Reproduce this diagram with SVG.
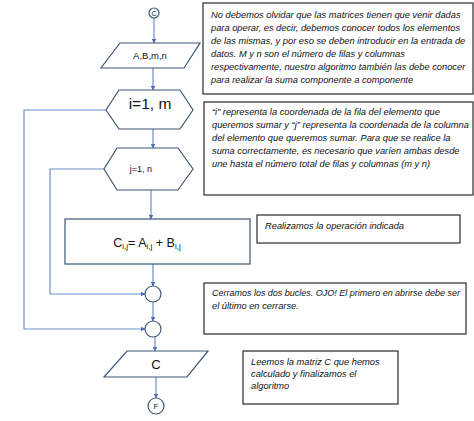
<svg xmlns="http://www.w3.org/2000/svg" width="474" height="421" viewBox="0 0 474 421">
<defs>
<marker id="ah" viewBox="0 0 10 10" refX="9" refY="5" markerWidth="5" markerHeight="5" orient="auto" markerUnits="userSpaceOnUse">
<path d="M0,0 L10,5 L0,10 z" fill="#4a6fb5"/>
</marker>
<style>
.n{fill:#fff;stroke:#3f5678;stroke-width:1.2}
.c{fill:none;stroke:#6f8dcc;stroke-width:1.2}
.nt{font-family:"Liberation Sans",Arial,sans-serif;fill:#111;text-anchor:middle}
.b{fill:#fff;stroke:#3a3a3a;stroke-width:1.3}
.bt{font-family:"Liberation Sans",Arial,sans-serif;font-style:italic;font-size:9.3px;fill:#111}
</style>
</defs>
<rect width="474" height="421" fill="#fff"/>
<g id="connectors">
<line class="c" x1="154" y1="18" x2="154" y2="43" marker-end="url(#ah)"/>
<line class="c" x1="153" y1="68" x2="153" y2="90" marker-end="url(#ah)"/>
<line class="c" x1="153" y1="129" x2="153" y2="148" marker-end="url(#ah)"/>
<line class="c" x1="151" y1="190" x2="151" y2="219" marker-end="url(#ah)"/>
<line class="c" x1="153" y1="264" x2="153" y2="286" marker-end="url(#ah)"/>
<line class="c" x1="153" y1="302" x2="153" y2="321" marker-end="url(#ah)"/>
<line class="c" x1="155" y1="337" x2="155" y2="351" marker-end="url(#ah)"/>
<line class="c" x1="156" y1="377" x2="156" y2="398" marker-end="url(#ah)"/>
<polyline class="c" points="106,110 24,110 24,329 145,329" marker-end="url(#ah)"/>
<polyline class="c" points="104,169 50,169 50,294 145,294" marker-end="url(#ah)"/>
</g>
<g id="start">
<circle class="n" cx="154" cy="13" r="5"/>
<text class="nt" x="154" y="15.5" font-size="7">C</text>
</g>
<g id="input">
<polygon class="n" points="120,43 200,43 184,68 101,68"/>
<text class="nt" x="150" y="58.5" font-size="9.5">A,B,m,n</text>
</g>
<g id="loop-i">
<polygon class="n" points="119,90 180,90 193,110 180,129 119,129 106,110"/>
<text class="nt" x="150" y="109" font-size="15.5">i=1, m</text>
</g>
<g id="loop-j">
<polygon class="n" points="117,148 178,148 193,169 178,190 117,190 104,169"/>
<text class="nt" x="141" y="172" font-size="9">j=1, n</text>
</g>
<g id="process">
<rect class="n" x="65" y="219" width="185" height="45"/>
<text class="nt" x="147" y="247" font-size="12.5">C<tspan font-size="8" dy="2">i,j</tspan><tspan dy="-2">= A</tspan><tspan font-size="8" dy="2">i,j</tspan><tspan dy="-2"> + B</tspan><tspan font-size="8" dy="2">i,j</tspan></text>
</g>
<g id="end-j">
<circle class="n" cx="153" cy="294" r="8"/>
</g>
<g id="end-i">
<circle class="n" cx="153" cy="329" r="8"/>
</g>
<g id="output">
<polygon class="n" points="127,351 208,351 187,377 104,377"/>
<text class="nt" x="156" y="369" font-size="13">C</text>
</g>
<g id="end">
<circle class="n" cx="156" cy="406" r="8"/>
<text class="nt" x="156" y="409" font-size="8">F</text>
</g>
<g id="note1">
<rect class="b" x="203" y="3" width="270" height="91"/>
<text class="bt" x="211" y="18">No debemos olvidar que las matrices tienen que venir dadas</text>
<text class="bt" x="211" y="31">para operar, es decir, debemos conocer todos los elementos</text>
<text class="bt" x="211" y="44">de las mismas, y por eso se deben introducir en la entrada de</text>
<text class="bt" x="211" y="57">datos. M y n son el número de filas y columnas</text>
<text class="bt" x="211" y="70">respectivamente, nuestro algoritmo también las debe conocer</text>
<text class="bt" x="211" y="83">para realizar la suma componente a componente</text>
</g>
<g id="note2">
<rect class="b" x="204" y="102" width="269" height="93"/>
<text class="bt" x="212" y="115">“i” representa la coordenada de la fila del elemento que</text>
<text class="bt" x="212" y="128">queremos sumar y “j” representa la coordenada de la columna</text>
<text class="bt" x="212" y="141">del elemento que queremos sumar. Para que se realice la</text>
<text class="bt" x="212" y="154">suma correctamente, es necesario que varíen ambas desde</text>
<text class="bt" x="212" y="167">une hasta el número total de filas y columnas (m y n)</text>
</g>
<g id="note3">
<rect class="b" x="257" y="215" width="203" height="28"/>
<text class="bt" x="265" y="229">Realizamos la operación indicada</text>
</g>
<g id="note4">
<rect class="b" x="204" y="283" width="262" height="51"/>
<text class="bt" x="212" y="296" font-size="9" textLength="248" lengthAdjust="spacingAndGlyphs">Cerramos los dos bucles. OJO! El primero en abrirse debe ser</text>
<text class="bt" x="212" y="309">el último en cerrarse.</text>
</g>
<g id="note5">
<rect class="b" x="243" y="351" width="155" height="53"/>
<text class="bt" x="251" y="365">Leemos la matriz C que hemos</text>
<text class="bt" x="251" y="377">calculado y finalizamos el</text>
<text class="bt" x="251" y="389">algoritmo</text>
</g>
</svg>
